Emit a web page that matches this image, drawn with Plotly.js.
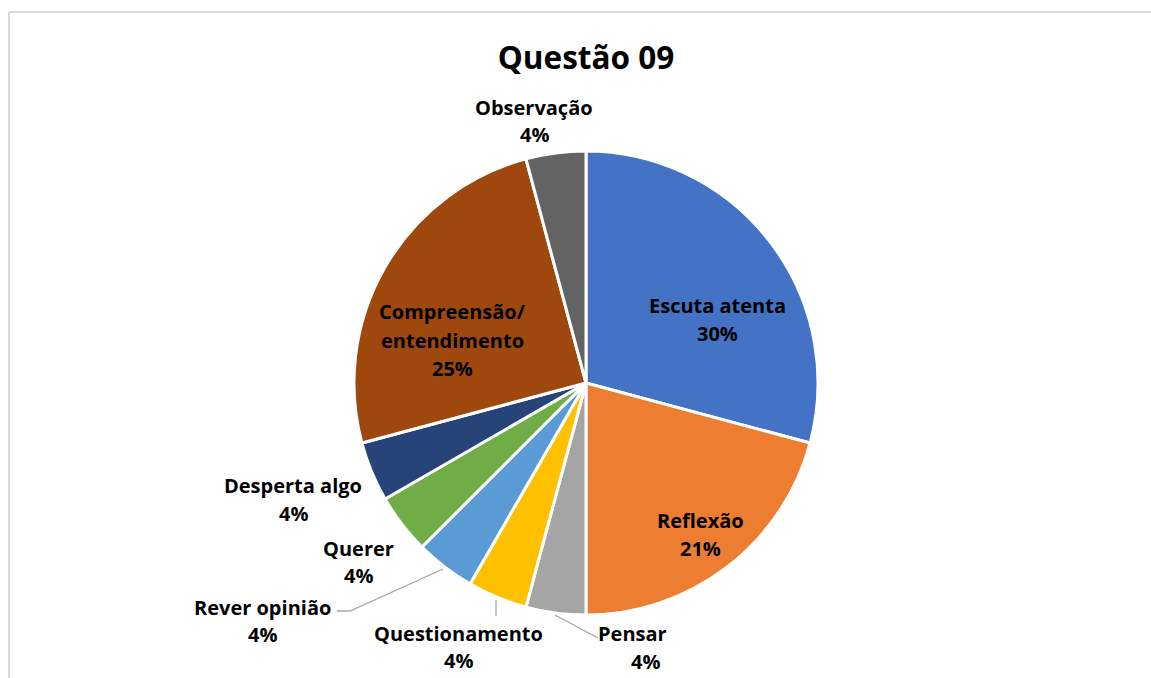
<!DOCTYPE html>
<html>
<head>
<meta charset="utf-8">
<script src="https://cdn.plot.ly/plotly-2.35.2.min.js"></script>
<style>
  html, body { margin: 0; padding: 0; background: #ffffff; overflow: hidden; }
  #chart { width: 1151px; height: 678px; }
</style>
</head>
<body>
<div id="chart"></div>
<script>
// ---- Data ----
const categories = ["Escuta atenta", "Reflexão", "Pensar", "Questionamento", "Rever opinião",
                    "Querer", "Desperta algo", "Compreensão/entendimento", "Observação"];
const counts = [7, 5, 1, 1, 1, 1, 1, 6, 1];
const percentLabels = ["30%", "21%", "4%", "4%", "4%", "4%", "4%", "25%", "4%"];
const colors = ["#4472C4", "#ED7D31", "#A5A5A5", "#FFC000", "#5B9BD5",
                "#70AD47", "#264478", "#9E480E", "#636363"];

// ---- Layout helpers (pixel -> paper) ----
const W = 1151, H = 678;
const px = x => x / W;
const py = y => 1 - y / H;

// label positions (pixel centres of the name line(s) and the percent line)
const labelPos = [
  {x: 717, ys: [305], py: 333},
  {x: 701, ys: [520], py: 548},
  {x: 632, ys: [633], py: 661, pctX: 645},
  {x: 458, ys: [633], py: 660},
  {x: 262, ys: [607], py: 634},
  {x: 358, ys: [548], py: 575},
  {x: 293, ys: [485], py: 513},
  {x: 452, ys: [311, 340], py: 368},
  {x: 534, ys: [107], py: 134}
];

const FAMILY = "'Open Sans', 'Noto Sans', sans-serif";
const font = {family: FAMILY, size: 20, color: "#000000"};
const annotations = [];
categories.forEach((c, i) => {
  const p = labelPos[i];
  const lines = c.indexOf("/") >= 0 ? [c.split("/")[0] + "/", c.split("/")[1]] : [c];
  lines.forEach((ln, k) => {
    annotations.push({xref: "paper", yref: "paper", x: px(p.x), y: py(p.ys[k]),
      text: "<b>" + ln + "</b>", showarrow: false, xanchor: "center", yanchor: "middle", font: font});
  });
  annotations.push({xref: "paper", yref: "paper", x: px(p.pctX || p.x), y: py(p.py),
    text: "<b>" + percentLabels[i] + "</b>", showarrow: false, xanchor: "center", yanchor: "middle", font: font});
});

const leader = {color: "#A6A6A6", width: 1.3};
const shapes = [
  // chart-area frame (left and top edges visible)
  {type: "line", xref: "paper", yref: "paper", x0: px(9), y0: py(12), x1: 1, y1: py(12), line: {color: "#D9D9D9", width: 2}},
  {type: "line", xref: "paper", yref: "paper", x0: px(9), y0: py(12), x1: px(9), y1: 0, line: {color: "#D9D9D9", width: 2}},
  // leader lines
  {type: "path", xref: "paper", yref: "paper",
   path: "M " + px(555) + "," + py(615) + " L " + px(598) + "," + py(638), line: leader},
  {type: "path", xref: "paper", yref: "paper",
   path: "M " + px(496) + "," + py(600) + " L " + px(496) + "," + py(616), line: leader},
  {type: "path", xref: "paper", yref: "paper",
   path: "M " + px(443) + "," + py(569) + " L " + px(350) + "," + py(611) + " L " + px(337) + "," + py(611), line: leader}
];

const cx = 586, cy = 383, R = 232;
const trace = {
  type: "pie",
  labels: categories,
  values: counts,
  sort: false,
  direction: "clockwise",
  rotation: 0,
  textinfo: "none",
  hoverinfo: "label+percent",
  marker: {colors: colors, line: {color: "#ffffff", width: 3}},
  domain: {x: [px(cx - R), px(cx + R)], y: [py(cy + R), py(cy - R)]},
  showlegend: false
};

const layout = {
  width: W, height: H,
  margin: {l: 0, r: 0, t: 0, b: 0, pad: 0},
  paper_bgcolor: "#ffffff",
  plot_bgcolor: "#ffffff",
  title: {text: "<b>Questão 09</b>", x: px(586), xanchor: "center", y: py(58), yanchor: "middle",
          font: {family: FAMILY, size: 31.5, color: "#000000"}},
  annotations: annotations,
  shapes: shapes,
  showlegend: false
};

Plotly.newPlot("chart", [trace], layout, {displayModeBar: false, staticPlot: true});
</script>
</body>
</html>
